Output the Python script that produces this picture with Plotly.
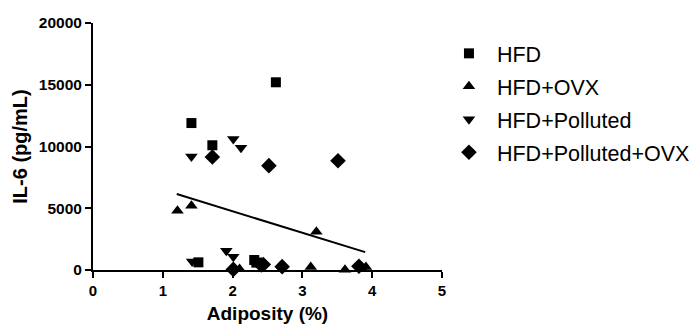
import plotly.graph_objects as go

# HFD
hfd_x = [2.62, 1.41, 1.71, 1.51, 2.31, 2.34]
hfd_y = [15200, 11900, 10100, 620, 810, 600]
# HFD+OVX
ovx_x = [1.21, 1.41, 3.20, 2.10, 3.12, 3.61, 3.91, 3.85]
ovx_y = [4800, 5200, 3100, 80, 250, 30, 250, 150]
# HFD+Polluted
pol_x = [1.41, 2.01, 2.12, 1.91, 2.01, 1.42]
pol_y = [9200, 10600, 9900, 1550, 1080, 680]
# HFD+Polluted+OVX
polovx_x = [1.71, 2.52, 3.51, 2.01, 2.41, 2.44, 2.71, 3.81]
polovx_y = [9150, 8450, 8850, 50, 400, 450, 270, 300]
# regression line
fit_x = [1.2, 3.9]
fit_y = [6150, 1450]

x_ticks = [0, 1, 2, 3, 4, 5]
y_ticks = [0, 5000, 10000, 15000, 20000]

FONT = "Liberation Sans, Arial, sans-serif"

fig = go.Figure()
series = [
    ("HFD", hfd_x, hfd_y, "square", 10),
    ("HFD+OVX", ovx_x, ovx_y, "triangle-up", 11),
    ("HFD+Polluted", pol_x, pol_y, "triangle-down", 11),
    ("HFD+Polluted+OVX", polovx_x, polovx_y, "diamond", 12),
]
for name, xs, ys, sym, sz in series:
    fig.add_trace(go.Scatter(
        x=xs, y=ys, mode="markers", name=name, legendgroup=name,
        marker=dict(symbol=sym, size=sz, color="black", line=dict(width=0)),
        cliponaxis=False,
    ))
fig.add_trace(go.Scatter(
    x=fit_x, y=fit_y, mode="lines", showlegend=False,
    line=dict(color="black", width=2),
))

fig.update_layout(
    width=689, height=321,
    margin=dict(l=85, r=255, t=15, b=59, autoexpand=False),
    paper_bgcolor="white", plot_bgcolor="white",
    font=dict(family=FONT, color="black"),
    legend=dict(
        x=0.997, y=0.96, xanchor="left", yanchor="top",
        font=dict(size=21.5, family=FONT, color="black"),
        tracegroupgap=2, itemsizing="trace", itemwidth=46,
        bgcolor="rgba(0,0,0,0)",
    ),
    xaxis=dict(
        range=[0, 5], tickvals=x_ticks, ticktext=[str(v) for v in x_ticks],
        showgrid=False, zeroline=False, automargin=False,
        showline=True, linecolor="black", linewidth=2,
        ticks="outside", ticklen=6, tickwidth=2, tickcolor="black",
        tickfont=dict(size=15, family=FONT, weight="bold"),
        title=dict(text="Adiposity (%)", font=dict(size=19, family=FONT, weight="bold"), standoff=9),
    ),
    yaxis=dict(
        range=[0, 20000], tickvals=y_ticks, ticktext=[str(v) for v in y_ticks],
        showgrid=False, zeroline=False, automargin=False,
        showline=True, linecolor="black", linewidth=2,
        ticks="outside", ticklen=6, tickwidth=2, tickcolor="black",
        tickfont=dict(size=15.5, family=FONT, weight="bold"),
        title=dict(text="IL-6 (pg/mL)", font=dict(size=20, family=FONT, weight="bold"), standoff=6),
    ),
)

fig.write_html("out.html")
